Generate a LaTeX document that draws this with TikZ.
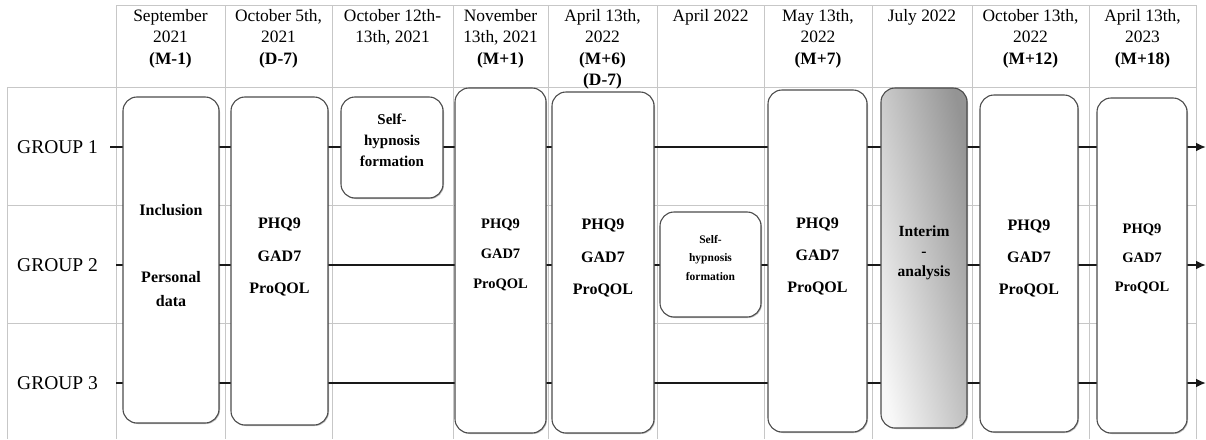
\documentclass[tikz,border=0pt]{standalone}
\usepackage{fontspec}
\setmainfont{Liberation Serif}
\usetikzlibrary{arrows.meta,shadows}
\pgfdeclarehorizontalshading{interimshade}{100bp}{color(0bp)=(white); color(25bp)=(black!3); color(75bp)=(black!42); color(100bp)=(black!42)}
\begin{document}
\begin{tikzpicture}[x=1pt,y=-1pt,
  gridline/.style={draw=black!22, line width=0.9pt},
  grpline/.style={draw=black!90, line width=2pt},
  tip/.style={-{Latex[length=10pt,width=9pt]}},
  box/.style={draw=black!70, line width=1.1pt, fill=white, rounded corners=14pt, inner sep=0,
    drop shadow={shadow xshift=1pt, shadow yshift=-1pt, opacity=0.25, fill=black}},
  interim/.style={box, shade, shading=interimshade, shading angle=12},
  head/.style={font=\fontsize{17.4}{21.5}\selectfont, align=center, anchor=north, inner sep=0},
  grp/.style={font=\fontsize{19.5}{22}\selectfont, anchor=west, inner sep=0},
  btext/.style={align=center, inner sep=0},
]
\useasboundingbox (0,0) rectangle (1206,439);
\fill[white] (0,0) rectangle (1206,439);

% grid
\draw[gridline] (116,5) -- (1196,5);
\foreach \yy in {87,205,323} \draw[gridline] (7,\yy) -- (1196,\yy);
\draw[gridline] (7,87) -- (7,439);
\foreach \xx in {116,225,332,453,548,657,764,872,972,1089,1196} \draw[gridline] (\xx,5) -- (\xx,439);

% headers
\node[head] (h1) at (170.5,9) {September\\2021\\\textbf{(M-1)}};
\node[head] (h2) at (278.5,9) {October 5th,\\2021\\\textbf{(D-7)}};
\node[head] (h3) at (392.5,9) {October 12th-\\13th, 2021};
\node[head] (h4) at (500.5,9) {November\\13th, 2021\\\textbf{(M+1)}};
\node[head] (h5) at (602.5,9) {April 13th,\\2022\\\textbf{(M+6)}\\\textbf{(D-7)}};
\node[head] (h6) at (710.5,9) {April 2022};
\node[head] (h7) at (818,9) {May 13th,\\2022\\\textbf{(M+7)}};
\node[head] (h8) at (922,9) {July 2022};
\node[head] (h9) at (1030.5,9) {October 13th,\\2022\\\textbf{(M+12)}};
\node[head] (h10) at (1142.5,9) {April 13th,\\2023\\\textbf{(M+18)}};

% group labels
\node[grp] (g1) at (17,147) {GROUP 1};
\node[grp] (g2) at (17,265) {GROUP 2};
\node[grp] (g3) at (17,383) {GROUP 3};

\coordinate (g1s) at (110,147); \coordinate (g1e) at (1206,147);
\coordinate (g2s) at (116,265); \coordinate (g2e) at (1206,265);
\coordinate (g3s) at (116,383); \coordinate (g3e) at (1206,383);
\draw[grpline, tip] (g1s) -- (g1e);
\draw[grpline, tip] (g2s) -- (g2e);
\draw[grpline, tip] (g3s) -- (g3e);

% boxes
\node[box, minimum width=96pt, minimum height=326pt] (b1) at (171,260) {};
\node[box, minimum width=97pt, minimum height=328pt] (b2) at (279.5,261) {};
\node[box, minimum width=102pt, minimum height=101pt] (b3) at (392,147.5) {};
\node[box, minimum width=91pt, minimum height=345pt] (b4) at (500.5,260.5) {};
\node[box, minimum width=102pt, minimum height=341pt] (b5) at (603,262.5) {};
\node[box, minimum width=101pt, minimum height=105pt] (b6) at (710.5,264.5) {};
\node[box, minimum width=99pt, minimum height=342pt] (b7) at (817.5,261) {};
\node[interim, minimum width=86pt, minimum height=340pt] (b8) at (924,258) {};
\node[box, minimum width=98pt, minimum height=337pt] (b9) at (1029,263.5) {};
\node[box, minimum width=90pt, minimum height=335pt] (b10) at (1142,265.5) {};

% box texts
\node[btext, font=\bfseries\fontsize{16}{24}\selectfont] (t1) at (171,255.5) {Inclusion\\[43pt]Personal\\data};
\node[btext, font=\bfseries\fontsize{16}{32.5}\selectfont] (t2) at (279.5,257) {PHQ9\\GAD7\\ProQOL};
\node[btext, font=\bfseries\fontsize{15}{21}\selectfont] (t3) at (392,140) {Self-\\hypnosis\\formation};
\node[btext, font=\bfseries\fontsize{14.5}{30}\selectfont] (t4) at (500.5,254.5) {PHQ9\\GAD7\\ProQOL};
\node[btext, font=\bfseries\fontsize{16}{32.5}\selectfont] (t5) at (603,258) {PHQ9\\GAD7\\ProQOL};
\node[btext, font=\bfseries\fontsize{11.5}{18.5}\selectfont] (t6) at (710.5,258) {Self-\\hypnosis\\formation};
\node[btext, font=\bfseries\fontsize{16}{32}\selectfont] (t7) at (817.5,256.5) {PHQ9\\GAD7\\ProQOL};
\node[btext, font=\bfseries\fontsize{15.5}{20}\selectfont] (t8) at (924,253) {Interim\\-\\analysis};
\node[btext, font=\bfseries\fontsize{16}{32}\selectfont] (t9) at (1029,258.5) {PHQ9\\GAD7\\ProQOL};
\node[btext, font=\bfseries\fontsize{14.5}{29}\selectfont] (t10) at (1142,258.5) {PHQ9\\GAD7\\ProQOL};
\end{tikzpicture}
\end{document}
